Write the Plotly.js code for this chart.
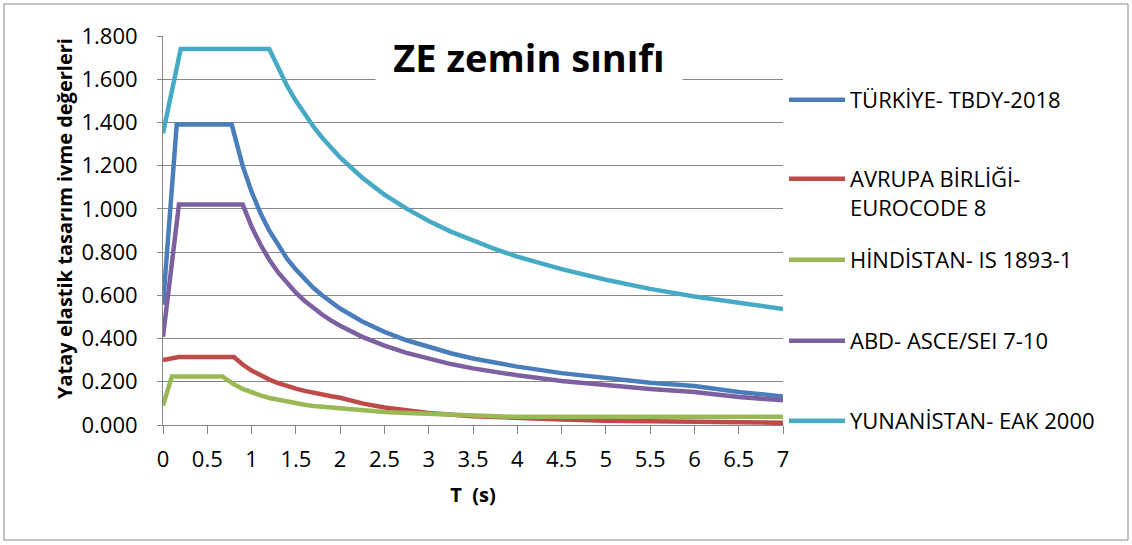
<!DOCTYPE html>
<html>
<head>
<meta charset="utf-8">
<script src="https://cdn.plot.ly/plotly-3.0.1.min.js"></script>
<style>html,body{margin:0;padding:0;background:#fff;}#chart{width:1132px;height:545px;}</style>
</head>
<body>
<div id="chart"></div>
<script>
// ---- data ----
const seriesNames = ["TÜRKİYE- TBDY-2018", "AVRUPA BİRLİĞİ-<br>EUROCODE 8", "HİNDİSTAN- IS 1893-1", "ABD- ASCE/SEI 7-10", "YUNANİSTAN- EAK 2000"];
const seriesColors = ["#4A7EBB", "#BE4B48", "#98B954", "#7D60A0", "#46AAC5"];

const tTurkiye = [0, 0.155, 0.776, 0.9, 1.0, 1.1, 1.2, 1.3, 1.4, 1.5, 1.6, 1.7, 1.8, 1.9, 2.0, 2.25, 2.5, 2.75, 3.0, 3.25, 3.5, 3.75, 4.0, 4.5, 5.0, 5.5, 6.0, 6.5, 7.0];
const vTurkiye = [0.556, 1.39, 1.39, 1.198, 1.079, 0.981, 0.899, 0.830, 0.770, 0.719, 0.674, 0.634, 0.599, 0.568, 0.539, 0.479, 0.431, 0.392, 0.360, 0.332, 0.308, 0.288, 0.270, 0.240, 0.216, 0.196, 0.180, 0.153, 0.132];

const tAvrupa = [0, 0.18, 0.8, 0.9, 1.0, 1.1, 1.2, 1.3, 1.4, 1.5, 1.6, 1.7, 1.8, 1.9, 2.0, 2.25, 2.5, 2.75, 3.0, 3.5, 4.0, 4.5, 5.0, 5.5, 6.0, 6.5, 7.0];
const vAvrupa = [0.300, 0.315, 0.315, 0.280, 0.252, 0.229, 0.210, 0.194, 0.180, 0.168, 0.158, 0.148, 0.140, 0.133, 0.126, 0.100, 0.081, 0.067, 0.056, 0.041, 0.032, 0.025, 0.020, 0.017, 0.014, 0.012, 0.010];

const tHindistan = [0, 0.1, 0.67, 0.8, 0.9, 1.0, 1.1, 1.2, 1.3, 1.4, 1.5, 1.6, 1.7, 1.8, 1.9, 2.0, 2.25, 2.5, 2.75, 3.0, 3.25, 3.5, 3.75, 4.0, 4.5, 5.0, 5.5, 6.0, 6.5, 7.0];
const vHindistan = [0.090, 0.225, 0.225, 0.188, 0.167, 0.150, 0.137, 0.125, 0.116, 0.107, 0.100, 0.094, 0.088, 0.084, 0.079, 0.075, 0.067, 0.060, 0.055, 0.050, 0.046, 0.043, 0.040, 0.038, 0.038, 0.038, 0.038, 0.038, 0.038, 0.038];

const tAbd = [0, 0.18, 0.9, 1.0, 1.1, 1.2, 1.3, 1.4, 1.5, 1.6, 1.7, 1.8, 1.9, 2.0, 2.25, 2.5, 2.75, 3.0, 3.25, 3.5, 3.75, 4.0, 4.5, 5.0, 5.5, 6.0, 6.5, 7.0];
const vAbd = [0.408, 1.02, 1.02, 0.918, 0.835, 0.765, 0.706, 0.656, 0.612, 0.574, 0.540, 0.510, 0.483, 0.459, 0.408, 0.367, 0.334, 0.306, 0.282, 0.262, 0.245, 0.230, 0.204, 0.184, 0.167, 0.153, 0.130, 0.114];

const tYunanistan = [0, 0.2, 1.2, 1.3, 1.4, 1.5, 1.6, 1.7, 1.8, 1.9, 2.0, 2.25, 2.5, 2.75, 3.0, 3.25, 3.5, 3.75, 4.0, 4.5, 5.0, 5.5, 6.0, 6.5, 7.0];
const vYunanistan = [1.35, 1.74, 1.74, 1.650, 1.570, 1.500, 1.436, 1.380, 1.328, 1.281, 1.238, 1.144, 1.066, 1.001, 0.944, 0.895, 0.852, 0.814, 0.779, 0.721, 0.672, 0.630, 0.595, 0.564, 0.537];

const xTickVals = [0, 0.5, 1, 1.5, 2, 2.5, 3, 3.5, 4, 4.5, 5, 5.5, 6, 6.5, 7];
const xTickText = ["0", "0.5", "1", "1.5", "2", "2.5", "3", "3.5", "4", "4.5", "5", "5.5", "6", "6.5", "7"];
const yTickVals = [0, 0.2, 0.4, 0.6, 0.8, 1.0, 1.2, 1.4, 1.6, 1.8];
const yTickText = ["0.000", "0.200", "0.400", "0.600", "0.800", "1.000", "1.200", "1.400", "1.600", "1.800"];

const chartTitle = "ZE zemin sınıfı";
const xTitle = "T \u00a0(s)";
const yTitle = "Yatay elastik tasarım ivme değerleri";

// ---- build ----
const FONT = "'Open Sans', Lato, sans-serif";
const xs = [tTurkiye, tAvrupa, tHindistan, tAbd, tYunanistan];
const ys = [vTurkiye, vAvrupa, vHindistan, vAbd, vYunanistan];
const legendIds = ["legend", "legend2", "legend3", "legend4", "legend5"];
const traces = xs.map((x, i) => ({
  type: "scatter", mode: "lines", x: x, y: ys[i], name: seriesNames[i],
  line: {color: seriesColors[i], width: 4.5, shape: "linear"},
  legend: legendIds[i], hoverinfo: "x+y"
}));

const W = 1132, H = 545, ML = 163, MR = 349, MT = 36, MB = 120;
const PW = W - ML - MR, PH = H - MT - MB;
const px2x = p => (p - ML) / PW;
const py2y = p => (H - MB - p) / PH;

const legendFont = {family: FONT, size: 22, color: "#000"};
const legendTops = [79, 158, 239, 320, 400];
const layout = {
  width: W, height: H,
  margin: {l: ML, r: MR, t: MT, b: MB, pad: 0},
  paper_bgcolor: "#fff", plot_bgcolor: "#fff",
  font: {family: FONT, color: "#000"},
  showlegend: true,
  xaxis: {
    range: [0, 7], tickvals: xTickVals, ticktext: xTickText,
    showgrid: false, zeroline: false, showline: true, linecolor: "#878787", linewidth: 1,
    ticks: "outside", ticklen: 8, tickcolor: "#878787", tickwidth: 1,
    tickfont: {family: FONT, size: 22, color: "#000"},
    ticklabelstandoff: 7,
    title: {text: xTitle, font: {family: FONT, size: 20, weight: "bold", color: "#000"}, standoff: 15},
    fixedrange: true
  },
  yaxis: {
    range: [0, 1.8], tickvals: yTickVals, ticktext: yTickText,
    showgrid: true, gridcolor: "#878787", gridwidth: 1,
    zeroline: false, showline: true, linecolor: "#878787", linewidth: 1,
    ticks: "outside", ticklen: 5, tickcolor: "#878787", tickwidth: 1,
    tickfont: {family: FONT, size: 22, color: "#000"},
    ticklabelstandoff: 15,
    fixedrange: true
  },
  annotations: [{
    text: "<b>" + chartTitle + "</b>", xref: "paper", yref: "paper",
    x: px2x(529), y: py2y(57), xanchor: "center", yanchor: "middle",
    showarrow: false, bgcolor: "#fff", width: 306, height: 60, borderpad: 0,
    font: {family: FONT, size: 38, color: "#000"}
  }, {
    text: "<b>" + yTitle + "</b>", xref: "paper", yref: "paper",
    x: px2x(64), y: py2y(219), xanchor: "center", yanchor: "middle",
    textangle: -90, showarrow: false,
    font: {family: FONT, size: 20, color: "#000"}
  }],
  shapes: [{
    type: "rect", xref: "paper", yref: "paper", layer: "below",
    x0: px2x(4), x1: px2x(1128), y0: py2y(540), y1: py2y(4),
    line: {color: "#878787", width: 1}, fillcolor: "rgba(0,0,0,0)"
  }]
};
legendIds.forEach((id, i) => {
  layout[id] = {
    x: px2x(784), xanchor: "left", y: py2y(legendTops[i]), yanchor: "top",
    bgcolor: "rgba(0,0,0,0)", borderwidth: 0, font: legendFont,
    itemwidth: 56, valign: "top", itemclick: false, itemdoubleclick: false
  };
});

Plotly.newPlot("chart", traces, layout, {displayModeBar: false, staticPlot: true});
</script>
</body>
</html>
